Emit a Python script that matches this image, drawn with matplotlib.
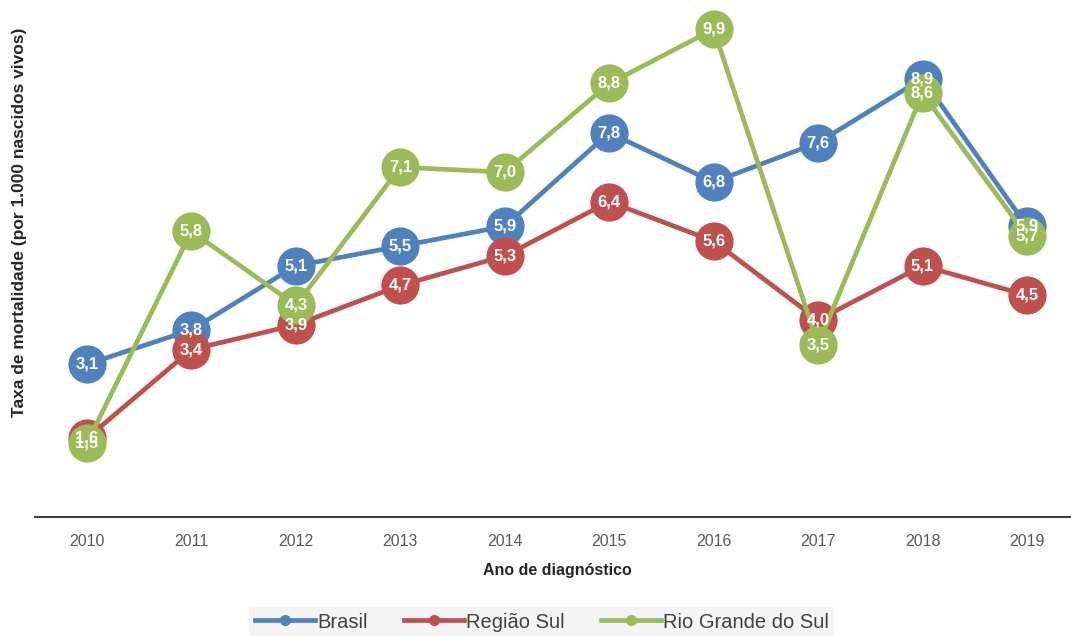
import matplotlib.pyplot as plt
import matplotlib as mpl
import numpy as np

mpl.rcParams.update({'font.family': 'Liberation Sans'})

anos = ["2010", "2011", "2012", "2013", "2014", "2015", "2016", "2017", "2018", "2019"]
brasil = [3.1, 3.8, 5.1, 5.5, 5.9, 7.8, 6.8, 7.6, 8.9, 5.9]
regiao_sul = [1.6, 3.4, 3.9, 4.7, 5.3, 6.4, 5.6, 4.0, 5.1, 4.5]
rio_grande = [1.5, 5.8, 4.3, 7.1, 7.0, 8.8, 9.9, 3.5, 8.6, 5.7]

series = [("Brasil", brasil, "#4F81BD"),
          ("Região Sul", regiao_sul, "#C0504D"),
          ("Rio Grande do Sul", rio_grande, "#9BBB59")]

fig = plt.figure(figsize=(10.71, 6.36), dpi=100)
# axes spans the category bands (half a band each side)
ax = fig.add_axes([34.8 / 1071, 119 / 636, 1044.4 / 1071, 507.4 / 636])

x = np.arange(len(anos))
for nome, vals, cor in series:
    ax.plot(x, vals, color=cor, linewidth=3.4, marker='o', markersize=27.5,
            markeredgewidth=0, label=nome, solid_capstyle='round')

# data labels on top of everything
for nome, vals, cor in series:
    for xi, v in zip(x, vals):
        ax.text(xi, v, f"{v:.1f}".replace('.', ','), ha='center', va='center',
                color='white', fontsize=12, fontweight='bold', zorder=10)

ax.set_xlim(-0.5, 9.5)
ax.set_ylim(0, 10.3)
ax.set_xticks(x)
ax.set_xticklabels(anos, fontsize=11.5, color='#595959')
ax.tick_params(axis='x', length=0, pad=12)
ax.set_yticks([])
for s in ['top', 'right', 'left']:
    ax.spines[s].set_visible(False)
ax.spines['bottom'].set_color('#404040')
ax.spines['bottom'].set_linewidth(1.5)

ax.set_xlabel("Ano de diagnóstico", fontsize=11.5, fontweight='bold', color='#262626', labelpad=10)
fig.text(20 / 1071, 1 - 222 / 636, "Taxa de mortalidade (por 1.000 nascidos vivos)",
         rotation=90, ha='center', va='center', fontsize=12.5, fontweight='bold', color='#262626')

handles = [mpl.lines.Line2D([], [], color=c, linewidth=3.4, marker='o', markersize=7) for _, _, c in series]
leg = fig.legend(handles, [s[0] for s in series], loc='center', bbox_to_anchor=(0.506, 0.022),
                 ncol=3, frameon=True, fontsize=14.5, handlelength=3.0, columnspacing=1.8,
                 handletextpad=0.1, borderpad=0.25, fancybox=False)
leg.get_frame().set_facecolor('#F2F2F2')
leg.get_frame().set_edgecolor('none')
for t in leg.get_texts():
    t.set_color('#404040')

fig.savefig("out.png", dpi=100)
